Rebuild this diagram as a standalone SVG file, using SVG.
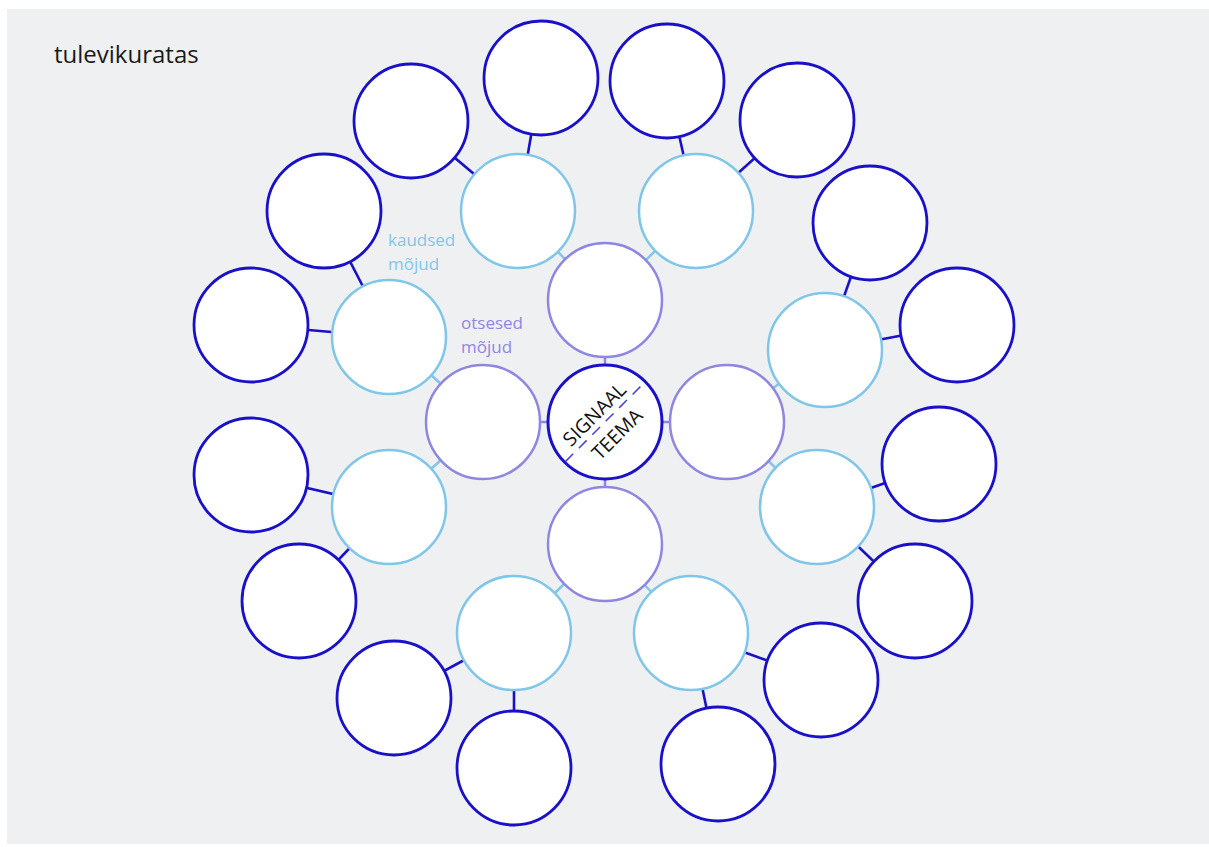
<svg xmlns="http://www.w3.org/2000/svg" width="1209" height="847" viewBox="0 0 1209 847">
<style>
.bg{fill:#eff0f2}
.n{fill:#fff;stroke-width:2.5}
.d{stroke:#1a10c8;stroke-width:2.8}
.l{stroke:#80c6e8}
.p{stroke:#8f86e2}
.c{fill:#fff;stroke:#1a10c8;stroke-width:3}
.ed{stroke:#1a10c8;stroke-width:2.6}
.el{stroke:#80c6e8;stroke-width:2.5}
.ep{stroke:#8f86e2;stroke-width:2.5}
.t{font-family:"Open Sans","Lato","Liberation Sans",sans-serif}
.lb{font-size:17px}
</style>
<rect class="bg" x="7" y="9" width="1202" height="835"/>
<text class="t" x="54" y="63" font-size="24" fill="#1a1a1a">tulevikuratas</text>
<text class="t lb" x="388" y="246" fill="#84c6e6">kaudsed</text>
<text class="t lb" x="388" y="269.5" fill="#84c6e6">mõjud</text>
<text class="t lb" x="461" y="329" fill="#8f86e2">otsesed</text>
<text class="t lb" x="461" y="352.5" fill="#8f86e2">mõjud</text>
<g id="connectors">
<line class="ep" x1="605" y1="422" x2="605" y2="300"/>
<line class="ep" x1="605" y1="422" x2="483" y2="422"/>
<line class="ep" x1="605" y1="422" x2="727" y2="422"/>
<line class="ep" x1="605" y1="422" x2="605" y2="544"/>
<line class="el" x1="605" y1="300" x2="518" y2="211"/>
<line class="el" x1="605" y1="300" x2="696" y2="211"/>
<line class="el" x1="483" y1="422" x2="389" y2="337"/>
<line class="el" x1="483" y1="422" x2="389" y2="507"/>
<line class="el" x1="727" y1="422" x2="825" y2="350"/>
<line class="el" x1="727" y1="422" x2="817" y2="507"/>
<line class="el" x1="605" y1="544" x2="514" y2="633"/>
<line class="el" x1="605" y1="544" x2="691" y2="633"/>
<line class="ed" x1="518" y1="211" x2="411" y2="121"/>
<line class="ed" x1="518" y1="211" x2="541" y2="78"/>
<line class="ed" x1="696" y1="211" x2="667" y2="81"/>
<line class="ed" x1="696" y1="211" x2="797" y2="120"/>
<line class="ed" x1="389" y1="337" x2="324" y2="211"/>
<line class="ed" x1="389" y1="337" x2="251" y2="325"/>
<line class="ed" x1="825" y1="350" x2="870" y2="223"/>
<line class="ed" x1="825" y1="350" x2="957" y2="325"/>
<line class="ed" x1="389" y1="507" x2="251" y2="475"/>
<line class="ed" x1="389" y1="507" x2="299" y2="601"/>
<line class="ed" x1="817" y1="507" x2="939" y2="464"/>
<line class="ed" x1="817" y1="507" x2="915" y2="601"/>
<line class="ed" x1="514" y1="633" x2="394" y2="698"/>
<line class="ed" x1="514" y1="633" x2="514" y2="768"/>
<line class="ed" x1="691" y1="633" x2="821" y2="680"/>
<line class="ed" x1="691" y1="633" x2="718" y2="764"/>
</g>
<g id="p-top"><circle class="n p" cx="605" cy="300" r="57"/></g>
<g id="p-left"><circle class="n p" cx="483" cy="422" r="57"/></g>
<g id="p-right"><circle class="n p" cx="727" cy="422" r="57"/></g>
<g id="p-bottom"><circle class="n p" cx="605" cy="544" r="57"/></g>
<g id="l1"><circle class="n l" cx="518" cy="211" r="57"/></g>
<g id="l2"><circle class="n l" cx="696" cy="211" r="57"/></g>
<g id="l3"><circle class="n l" cx="389" cy="337" r="57"/></g>
<g id="l4"><circle class="n l" cx="825" cy="350" r="57"/></g>
<g id="l5"><circle class="n l" cx="389" cy="507" r="57"/></g>
<g id="l6"><circle class="n l" cx="817" cy="507" r="57"/></g>
<g id="l7"><circle class="n l" cx="514" cy="633" r="57"/></g>
<g id="l8"><circle class="n l" cx="691" cy="633" r="57"/></g>
<g id="d1"><circle class="n d" cx="541" cy="78" r="57"/></g>
<g id="d2"><circle class="n d" cx="667" cy="81" r="57"/></g>
<g id="d3"><circle class="n d" cx="411" cy="121" r="57"/></g>
<g id="d4"><circle class="n d" cx="797" cy="120" r="57"/></g>
<g id="d5"><circle class="n d" cx="324" cy="211" r="57"/></g>
<g id="d6"><circle class="n d" cx="870" cy="223" r="57"/></g>
<g id="d7"><circle class="n d" cx="251" cy="325" r="57"/></g>
<g id="d8"><circle class="n d" cx="957" cy="325" r="57"/></g>
<g id="d9"><circle class="n d" cx="251" cy="475" r="57"/></g>
<g id="d10"><circle class="n d" cx="939" cy="464" r="57"/></g>
<g id="d11"><circle class="n d" cx="299" cy="601" r="57"/></g>
<g id="d12"><circle class="n d" cx="915" cy="601" r="57"/></g>
<g id="d13"><circle class="n d" cx="394" cy="698" r="57"/></g>
<g id="d14"><circle class="n d" cx="821" cy="680" r="57"/></g>
<g id="d15"><circle class="n d" cx="514" cy="768" r="57"/></g>
<g id="d16"><circle class="n d" cx="718" cy="764" r="57"/></g>
<g id="center">
<circle class="c" cx="605" cy="422" r="57"/>
<g transform="translate(605 422) rotate(-45)">
<line x1="-56" y1="0" x2="56" y2="0" stroke="#4b40d4" stroke-width="1.5" stroke-dasharray="11 8"/>
<text class="t" x="-2" y="-6" font-size="19.5" fill="#111" text-anchor="middle">SIGNAAL</text>
<text class="t" x="0" y="24" font-size="19.5" fill="#111" text-anchor="middle">TEEMA</text>
</g>
</g>
</svg>
